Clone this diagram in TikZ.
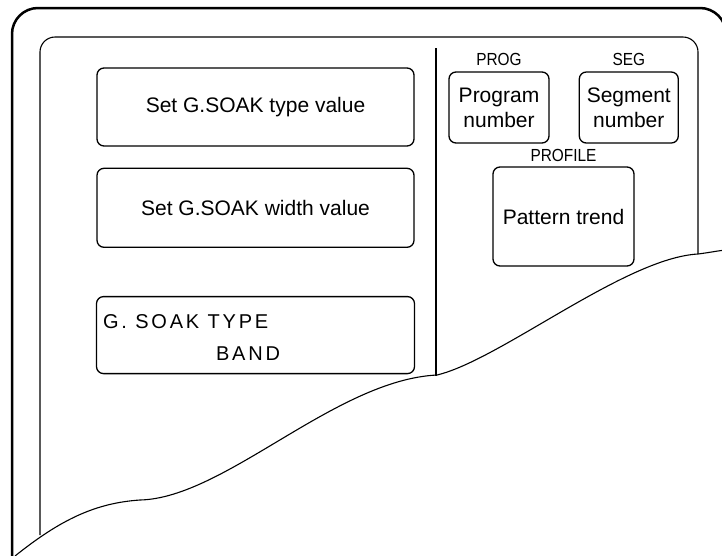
\documentclass[tikz,border=0pt]{standalone}
\usepackage{fontspec}
\setmainfont{Liberation Sans}
\usepackage{tikz}
\usetikzlibrary{positioning,calc}

\begin{document}
\begin{tikzpicture}[x=1pt, y=-1pt, node distance=21pt,
    panel/.style={rectangle, draw, line width=1.3pt, rounded corners=7pt, align=center, inner sep=0pt, font=\fontsize{21}{25}\selectfont},
    tag/.style={inner sep=1pt, font=\fontsize{17.5}{19}\selectfont\addfontfeature{FakeStretch=0.88}},
    lcdtext/.style={inner sep=0pt, anchor=base west, font=\fontsize{20}{24}\selectfont\addfontfeature{LetterSpace=14}}]
    \useasboundingbox (0,0) rectangle (722,555);
    \begin{scope}
        \clip (0,0) rectangle (722,555);
        \draw[line width=2.5pt, rounded corners=26pt] (12,560) -- (12,8) -- (726,8) -- (726,560);
    \end{scope}
    \draw[line width=1.1pt, rounded corners=15pt] (40,535) -- (40,37) -- (698,37) -- (698,254);
    \draw[line width=2pt] (436,48) -- (436,376);
    \draw[line width=1.1pt] (15,556) .. controls (60,520) and (95,503) .. (140,500)
        .. controls (225,498) and (335,380) .. (437,375)
        .. controls (500,360) and (625,258) .. (698,254)
        .. controls (710,252.5) and (716,251) .. (726,250);

    \node[panel, minimum width=317pt, minimum height=78pt] (typeset) at (255.5,107) {Set G.SOAK type value};
    \node[panel, minimum width=317pt, minimum height=79pt, below=21pt of typeset] (widthset) {Set G.SOAK width value};
    \node[panel, minimum width=318pt, minimum height=77pt, below=48pt of widthset] (lcd) {};
    \node[lcdtext] (lcdtop) at ($(lcd.north west)+(7,33)$) {G. SOAK TYPE};
    \node[lcdtext] (lcdbottom) at ($(lcd.north west)+(120,65)$) {BAND};

    \node[panel, minimum width=100pt, minimum height=71pt] (prog) at (499,107.5) {Program\\number};
    \node[panel, minimum width=99pt, minimum height=71pt, right=29pt of prog] (seg) {Segment\\number};
    \node[panel, minimum width=141pt, minimum height=99pt] (profile) at (563.5,216.5) {Pattern trend};
    \node[tag, above=4pt of prog] (progtag) {PROG};
    \node[tag, above=4pt of seg] (segtag) {SEG};
    \node[tag, above=3pt of profile] (profiletag) {PROFILE};
\end{tikzpicture}
\end{document}
